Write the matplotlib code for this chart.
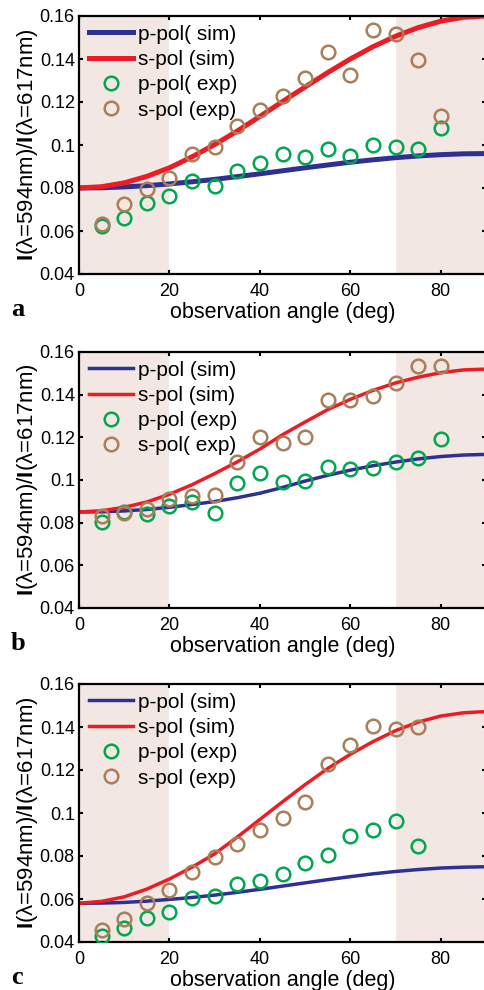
import matplotlib
matplotlib.use("Agg")
import matplotlib.pyplot as plt

plt.rcParams['font.family'] = ['Liberation Sans', 'DejaVu Sans']
plt.rcParams['mathtext.fontset'] = 'custom'
plt.rcParams['mathtext.rm'] = 'Liberation Sans'
plt.rcParams['mathtext.bf'] = 'Liberation Sans:bold'

# observation angles (deg)
angle_sim = [0, 5, 10, 15, 20, 25, 30, 35, 40, 45, 50, 55, 60, 65, 70, 75, 80, 85, 90]
angle_exp = [5, 10, 15, 20, 25, 30, 35, 40, 45, 50, 55, 60, 65, 70, 75, 80]

# panel a
a_p_sim = [0.0800, 0.0801, 0.0805, 0.0811, 0.0819, 0.0829, 0.0840, 0.0853, 0.0866, 0.0880,
           0.0894, 0.0907, 0.0920, 0.0931, 0.0941, 0.0949, 0.0955, 0.0959, 0.0960]
a_s_sim = [0.0800, 0.0806, 0.0824, 0.0854, 0.0894, 0.0945, 0.1002, 0.1065, 0.1133, 0.1202,
           0.1270, 0.1337, 0.1400, 0.1457, 0.1506, 0.1546, 0.1576, 0.1594, 0.1600]
a_p_exp = [0.0622, 0.0662, 0.0730, 0.0764, 0.0831, 0.0811, 0.0877, 0.0915, 0.0958, 0.0943,
           0.0980, 0.0947, 0.0998, 0.0989, 0.0983, 0.1078]
a_s_exp = [0.0631, 0.0727, 0.0797, 0.0848, 0.0957, 0.0992, 0.1087, 0.1164, 0.1228, 0.1310,
           0.1431, 0.1326, 0.1533, 0.1516, 0.1397, 0.1136]

# panel b
b_p_sim = [0.0850, 0.0851, 0.0855, 0.0862, 0.0872, 0.0885, 0.0899, 0.0917, 0.0938, 0.0965,
           0.0995, 0.1022, 0.1046, 0.1067, 0.1084, 0.1099, 0.1110, 0.1117, 0.1120]
b_s_sim = [0.0850, 0.0856, 0.0872, 0.0897, 0.0933, 0.0978, 0.1030, 0.1085, 0.1145, 0.1212,
           0.1272, 0.1330, 0.1378, 0.1420, 0.1455, 0.1482, 0.1503, 0.1516, 0.1520]
b_p_exp = [0.0805, 0.0852, 0.0840, 0.0880, 0.0896, 0.0843, 0.0988, 0.1031, 0.0991, 0.0995,
           0.1059, 0.1050, 0.1058, 0.1084, 0.1105, 0.1190]
b_s_exp = [0.0829, 0.0844, 0.0863, 0.0911, 0.0927, 0.0928, 0.1084, 0.1200, 0.1172, 0.1203,
           0.1376, 0.1377, 0.1396, 0.1457, 0.1536, 0.1533]

# panel c (no point at 80 deg)
c_p_sim = [0.0580, 0.0581, 0.0584, 0.0590, 0.0598, 0.0607, 0.0618, 0.0631, 0.0645, 0.0660,
           0.0675, 0.0690, 0.0704, 0.0717, 0.0728, 0.0737, 0.0744, 0.0748, 0.0750]
c_s_sim = [0.0580, 0.0589, 0.0610, 0.0646, 0.0693, 0.0748, 0.0810, 0.0888, 0.0970, 0.1052,
           0.1132, 0.1207, 0.1273, 0.1332, 0.1383, 0.1423, 0.1451, 0.1466, 0.1472]
c_p_exp = [0.0430, 0.0465, 0.0512, 0.0540, 0.0605, 0.0616, 0.0672, 0.0683, 0.0714, 0.0766,
           0.0804, 0.0895, 0.0923, 0.0961, 0.0846]
c_s_exp = [0.0457, 0.0507, 0.0582, 0.0641, 0.0726, 0.0794, 0.0857, 0.0920, 0.0978, 0.1052,
           0.1229, 0.1315, 0.1403, 0.1391, 0.1398]

a_labels = ['p-pol( sim)', 's-pol (sim)', 'p-pol( exp)', 's-pol (exp)']
b_labels = ['p-pol (sim)', 's-pol (sim)', 'p-pol (exp)', 's-pol( exp)']
c_labels = ['p-pol (sim)', 's-pol (sim)', 'p-pol (exp)', 's-pol (exp)']

yticks = [0.04, 0.06, 0.08, 0.1, 0.12, 0.14, 0.16]
ytick_labels = ['0.04', '0.06', '0.08', '0.1', '0.12', '0.14', '0.16']
xticks = [0, 20, 40, 60, 80]

BLUE = '#2e3192'
RED = '#ed1c24'
GREEN = '#00a651'
BROWN = '#a97e58'
SHADE = '#f2e7e2'

W, H = 485, 990
fig = plt.figure(figsize=(W / 100, H / 100), dpi=100)

panels = [
    # top px, bottom px, letter, data, line width
    (16, 274, 'a', a_p_sim, a_s_sim, a_p_exp, a_s_exp, a_labels, 3.6),
    (352, 608, 'b', b_p_sim, b_s_sim, b_p_exp, b_s_exp, b_labels, 2.5),
    (684, 942, 'c', c_p_sim, c_s_sim, c_p_exp, c_s_exp, c_labels, 2.5),
]

left_px, right_px = 79, 486
for top, bot, letter, p_sim, s_sim, p_exp, s_exp, labels, lw in panels:
    ax = fig.add_axes([left_px / W, 1 - bot / H, (right_px - left_px) / W, (bot - top) / H])
    ax.axvspan(0, 20, color=SHADE, lw=0, zorder=0)
    ax.axvspan(70, 90, color=SHADE, lw=0, zorder=0)
    ax.plot(angle_sim, p_sim, color=BLUE, lw=lw, label=labels[0], zorder=2)
    ax.plot(angle_sim, s_sim, color=RED, lw=lw, label=labels[1], zorder=2)
    ax.plot(angle_exp[:len(p_exp)], p_exp, 'o', mfc='none', mec=GREEN, ms=9.8, mew=1.8,
            label=labels[2], zorder=3)
    ax.plot(angle_exp[:len(s_exp)], s_exp, 'o', mfc='none', mec=BROWN, ms=9.8, mew=1.8,
            label=labels[3], zorder=3)
    ax.set_xlim(0, 90)
    ax.set_ylim(0.04, 0.16)
    ax.set_xticks(xticks)
    ax.set_yticks(yticks)
    ax.set_yticklabels(ytick_labels)
    ax.tick_params(direction='in', length=3, width=1.5, top=True, right=True,
                   labelsize=13)
    ax.tick_params(axis='x', pad=6.5)
    ax.tick_params(axis='y', pad=3)
    for sp in ax.spines.values():
        sp.set_linewidth(1.6)
    ax.set_xlabel('observation angle (deg)', fontsize=15.5, labelpad=1.5)
    ax.set_ylabel(r'$\mathbf{I}$(λ=594nm)/$\mathbf{I}$(λ=617nm)', fontsize=16, labelpad=0)
    ax.legend(loc='upper left', bbox_to_anchor=(0.024, 0.966), frameon=False,
              fontsize=15, handlelength=2.1, handletextpad=0.25, labelspacing=0.3,
              borderpad=0, borderaxespad=0)
    fig.text(11 / W, 1 - (bot + 36) / H, letter, family='Liberation Serif',
             weight='bold', fontsize=19, va='center')

fig.savefig('out.png', dpi=100)
